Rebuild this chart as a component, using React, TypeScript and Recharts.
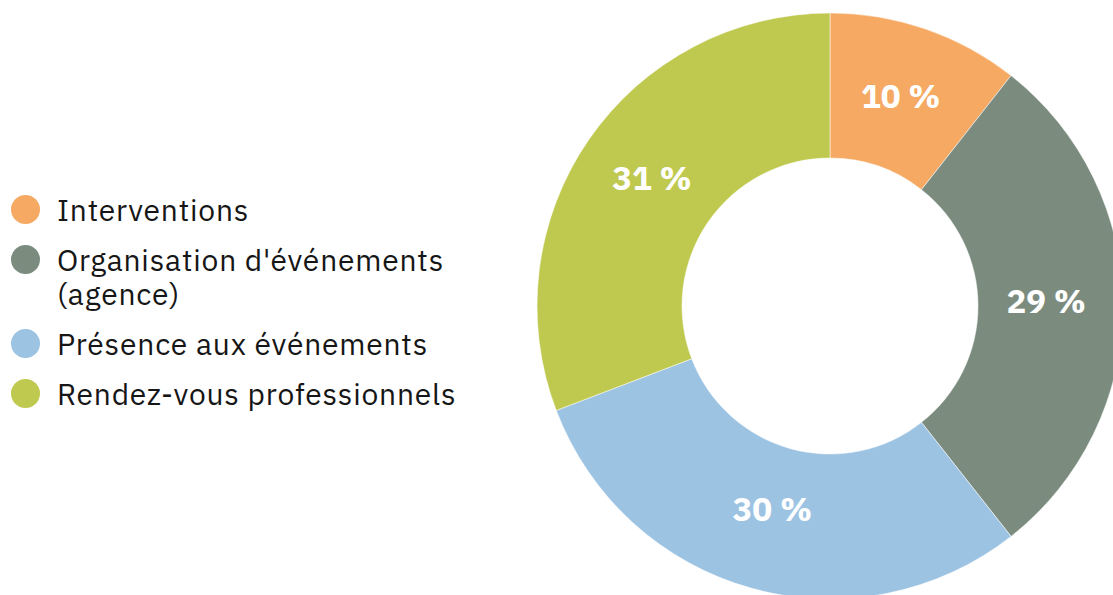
import { PieChart, Pie, Cell, Legend } from "recharts";

const categories = [
  "Interventions",
  "Organisation d'événements (agence)",
  "Présence aux événements",
  "Rendez-vous professionnels",
];
// shares in percent
const shares = [10.6, 28.8, 29.8, 30.8];
const COLORS = ["#F5A962", "#7B8C7F", "#9DC3E3", "#BFC94F"];

const data = categories.map((name, i) => ({ name, value: shares[i] }));

// rounded labels that add up to 100 (largest remainder)
const roundShares = (vals: number[]) => {
  const total = vals.reduce((a, b) => a + b, 0);
  const raw = vals.map((v) => (v / total) * 100);
  const out = raw.map((v) => Math.floor(v));
  let left = 100 - out.reduce((a, b) => a + b, 0);
  const order = raw
    .map((v, i) => ({ i, rem: v - Math.floor(v) }))
    .sort((a, b) => b.rem - a.rem);
  for (let k = 0; k < order.length && left > 0; k++, left--) out[order[k].i] += 1;
  return out;
};
const labels = roundShares(shares);

const FONT = "'IBM Plex Sans', 'Noto Sans', sans-serif";
const RADIAN = Math.PI / 180;

const renderLabel = (props: any) => {
  const { cx, cy, midAngle, innerRadius, outerRadius, index } = props;
  const r = innerRadius + (outerRadius - innerRadius) * 0.47;
  const x = cx + r * Math.cos(-midAngle * RADIAN);
  const y = cy + r * Math.sin(-midAngle * RADIAN);
  return (
    <text
      x={x}
      y={y}
      dy={-6}
      fill="#ffffff"
      textAnchor="middle"
      dominantBaseline="central"
      style={{ fontFamily: FONT, fontSize: 33, fontWeight: 700 }}
    >
      {`${labels[index]} %`}
    </text>
  );
};

const renderLegend = (props: any) => {
  const { payload } = props;
  return (
    <ul style={{ listStyle: "none", margin: 0, padding: 0, fontFamily: FONT }}>
      {payload.map((entry: any, i: number) => (
        <li
          key={`leg-${i}`}
          style={{ display: "flex", alignItems: "flex-start", marginBottom: 16 }}
        >
          <span
            style={{
              width: 29,
              height: 29,
              borderRadius: "50%",
              background: entry.color,
              flex: "none",
              marginTop: 2,
            }}
          />
          <span
            style={{
              marginLeft: 17,
              fontSize: 30,
              letterSpacing: 0.8,
              lineHeight: "34px",
              color: "#161616",
              maxWidth: 420,
              textAlign: "left",
            }}
          >
            {entry.value}
          </span>
        </li>
      ))}
    </ul>
  );
};

export default function App() {
  return (
    <div
      style={{
        position: "absolute",
        left: 0,
        top: 0,
        width: 1113,
        height: 595,
        overflow: "hidden",
        background: "#ffffff",
      }}
    >
      <PieChart width={1113} height={595} margin={{ top: 0, right: 0, bottom: 0, left: 0 }}>
        <Pie
          data={data}
          dataKey="value"
          nameKey="name"
          cx={830}
          cy={306}
          innerRadius={148}
          outerRadius={293}
          startAngle={90}
          endAngle={-270}
          stroke="#ffffff"
          strokeWidth={0.5}
          label={renderLabel}
          labelLine={false}
          isAnimationActive={false}
        >
          {data.map((_, i) => (
            <Cell key={`cell-${i}`} fill={COLORS[i]} />
          ))}
        </Pie>
        <Legend
          layout="vertical"
          align="center"
          verticalAlign="middle"
          content={renderLegend}
          wrapperStyle={{ left: 11, top: 193, width: 470 }}
        />
      </PieChart>
    </div>
  );
}
